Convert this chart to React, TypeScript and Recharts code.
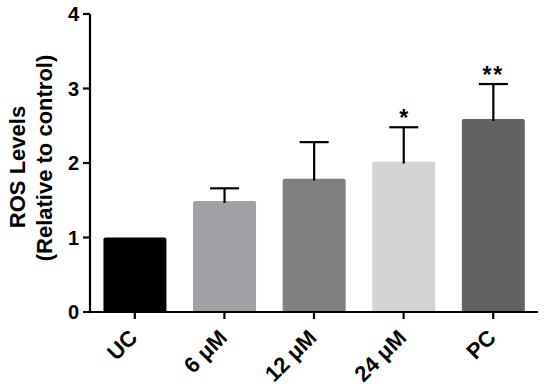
import React from 'react';
import { BarChart, Bar, XAxis, YAxis, Cell, Rectangle } from 'recharts';

const categories = ['UC', '6 μM', '12 μM', '24 μM', 'PC'];
const means = [1.0, 1.49, 1.79, 2.02, 2.59];
const errors = [0, 0.17, 0.49, 0.46, 0.47];
const marks = ['', '', '', '*', '**'];
const colors = ['#000000', '#a1a1a5', '#808080', '#d4d4d4', '#626262'];
const yTicks = [0, 1, 2, 3, 4];

const data = categories.map((name, i) => ({ name, value: means[i], err: errors[i], mark: marks[i] }));

const FONT = '"Liberation Sans", Arial, sans-serif';

const BarShape = (props: any) => {
  const { x, y, width, height, fill, payload } = props;
  const pxPerUnit = height / payload.value;
  const cx = x + width / 2;
  const top = y - payload.err * pxPerUnit;
  return (
    <g>
      <Rectangle x={x} y={y} width={width} height={height} fill={fill} radius={[2, 2, 0, 0]} />
      {payload.err > 0 && (
        <g stroke="#000" strokeWidth={2.2}>
          <line x1={cx} x2={cx} y1={y + 2} y2={top} />
          <line x1={cx - 14.5} x2={cx + 14.5} y1={top} y2={top} />
        </g>
      )}
      {payload.mark && (
        <text x={cx} y={top - 1} textAnchor="middle" fontFamily={FONT} fontWeight="bold" fontSize={23} fill="#000" letterSpacing={payload.mark.length > 1 ? 2 : 0}>
          {payload.mark}
        </text>
      )}
    </g>
  );
};

const XTick = (props: any) => {
  const { x, y, payload } = props;
  return (
    <text
      x={x + 4}
      y={y + 18}
      transform={`rotate(-45, ${x + 4}, ${y + 18})`}
      textAnchor="end"
      fontFamily={FONT}
      fontWeight="bold"
      fontSize={22}
      fill="#000"
    >
      {payload.value}
    </text>
  );
};

const YLabel = () => {
  return (
    <g fontFamily={FONT} fontWeight="bold" fontSize={22} fill="#000">
      <text x={25} y={167} transform="rotate(-90, 25, 167)" textAnchor="middle">ROS Levels</text>
      <text x={52} y={158} transform="rotate(-90, 52, 158)" textAnchor="middle">(Relative to control)</text>
    </g>
  );
};

export default function App() {
  return (
    <div style={{ position: 'absolute', left: 0, top: 0, width: 550, height: 390, background: '#fff' }}>
      <BarChart width={550} height={390} data={data} margin={{ top: 14, right: 12, left: 0, bottom: 0 }} barCategoryGap="15%">
        <XAxis
          dataKey="name"
          axisLine={{ stroke: '#000', strokeWidth: 2.2 }}
          tickLine={{ stroke: '#000', strokeWidth: 2.2 }}
          tickSize={7}
          tick={<XTick />}
          interval={0}
          height={78}
        />
        <YAxis
          domain={[0, 4]}
          ticks={yTicks}
          width={90}
          axisLine={{ stroke: '#000', strokeWidth: 2.2 }}
          tickLine={{ stroke: '#000', strokeWidth: 2.2 }}
          tickSize={7}
          tickMargin={4}
          tick={{ fontFamily: FONT, fontWeight: 'bold', fontSize: 20, fill: '#000' }}
          label={<YLabel />}
        />
        <Bar dataKey="value" isAnimationActive={false} shape={<BarShape />}>
          {data.map((d, i) => (
            <Cell key={d.name} fill={colors[i]} />
          ))}
        </Bar>
      </BarChart>
    </div>
  );
}
